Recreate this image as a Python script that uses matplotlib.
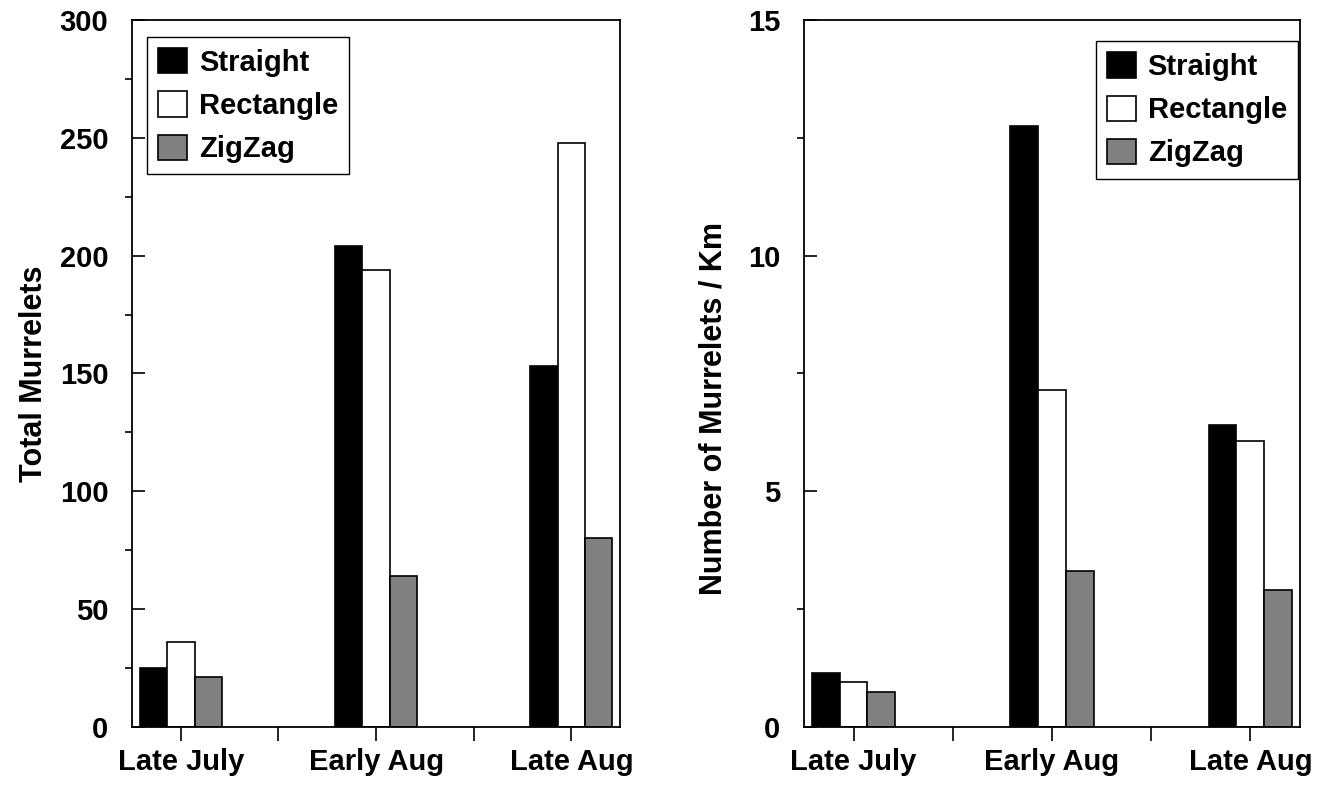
import numpy as np
import matplotlib
matplotlib.use("Agg")
import matplotlib.pyplot as plt

# Datos
periodos = ["Late July", "Early Aug", "Late Aug"]
series = ["Straight", "Rectangle", "ZigZag"]

total_straight = [25, 204, 153]
total_rectangle = [36, 194, 248]
total_zigzag = [21, 64, 80]

km_straight = [1.15, 12.75, 6.4]
km_rectangle = [0.95, 7.15, 6.07]
km_zigzag = [0.75, 3.3, 2.9]

colores = ["black", "white", "#808080"]

plt.rcParams["font.family"] = ["Liberation Sans", "DejaVu Sans"]
plt.rcParams["font.weight"] = "bold"
plt.rcParams["font.size"] = 21
plt.rcParams["axes.linewidth"] = 1.3

fig = plt.figure(figsize=(13.18, 7.86), dpi=100)
ax1 = fig.add_axes([0.1002, 0.0751, 0.3703, 0.8995])
ax2 = fig.add_axes([0.6100, 0.0751, 0.3763, 0.8995])

x = np.arange(len(periodos))
w = 0.14


def barras(ax, valores, ymax, mayor, menor, ylabel, pad_label,
           pos_leyenda, ancla):
    for i, (vals, nombre, c) in enumerate(zip(valores, series, colores)):
        ax.bar(x + (i - 1) * w, vals, w, color=c, edgecolor="black",
               linewidth=1.2, label=nombre)
    ax.set_xlim(-0.25, 2.25)
    ax.set_ylim(0, ymax)
    ax.set_xticks([0, 0.5, 1, 1.5, 2])
    ax.set_xticklabels([periodos[0], "", periodos[1], "", periodos[2]])
    ax.set_yticks(np.arange(0, ymax + mayor / 2, mayor))
    ax.set_yticks(np.arange(menor, ymax, mayor), minor=True)
    ax.tick_params(axis="x", direction="out", length=10, width=1.2, pad=5)
    ax.tick_params(axis="y", which="major", direction="in", length=9.5,
                   width=1.2, pad=17)
    ax.tick_params(axis="y", which="minor", direction="out", length=5,
                   width=1.2)
    ax.set_ylabel(ylabel, fontweight="bold", fontsize=22, labelpad=pad_label)
    leg = ax.legend(loc=pos_leyenda, bbox_to_anchor=ancla, borderaxespad=0,
                    fancybox=False, shadow=False, framealpha=1,
                    edgecolor="black", handlelength=1.0, handleheight=0.96,
                    handletextpad=0.4, labelspacing=0.5, borderpad=0.38)
    leg.get_frame().set_linewidth(1.0)


barras(ax1, [total_straight, total_rectangle, total_zigzag], 300, 50, 25,
       "Total Murrelets", 8, "upper left", (0.031, 0.976))
barras(ax2, [km_straight, km_rectangle, km_zigzag], 15, 5, 2.5,
       "Number of Murrelets / Km", 14, "upper right", (0.996, 0.970))

# la etiqueta de la derecha esta algo mas abajo en el original
ax2.yaxis.label.set_y(0.45)

fig.savefig("out.png", dpi=100)
